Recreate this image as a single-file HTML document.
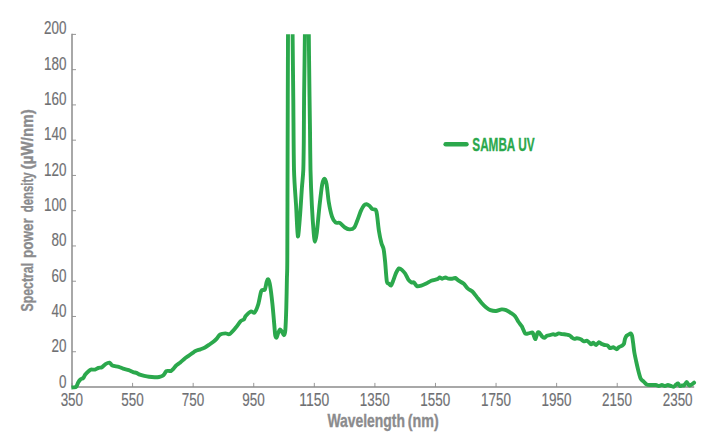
<!DOCTYPE html>
<html lang="en"><head><meta charset="utf-8"><title>SAMBA UV spectral power density</title>
<style>
html,body{margin:0;padding:0;background:#fff;}
body{width:720px;height:446px;overflow:hidden;}
svg{display:block;}
text{font-family:"Liberation Sans",sans-serif;}
.tl{font-size:17.8px;fill:#6f7073;stroke:#6f7073;stroke-width:0.18px;}
.tt{font-size:17.4px;font-weight:bold;fill:#8b8b8d;stroke:#8b8b8d;stroke-width:0.35px;word-spacing:-0.17em;}
.lg{font-size:17.6px;font-weight:bold;fill:#2ba84c;stroke:#2ba84c;stroke-width:0.3px;}
</style></head><body>
<svg width="720" height="446" viewBox="0 0 720 446">
<rect width="720" height="446" fill="#fff"/>
<defs><clipPath id="plot"><rect x="71.4" y="34.2" width="640" height="360"/></clipPath></defs>

<g stroke="#8c8c8c" fill="none">
<path stroke-width="1.5" d="M72.00 33.80 V387.00 H694.2"/>
<path stroke-width="0.9" d="M72.00 387.00 h4.0"/>
<path stroke-width="0.9" d="M72.00 351.74 h4.0"/>
<path stroke-width="0.9" d="M72.00 316.48 h4.0"/>
<path stroke-width="0.9" d="M72.00 281.22 h4.0"/>
<path stroke-width="0.9" d="M72.00 245.96 h4.0"/>
<path stroke-width="0.9" d="M72.00 210.70 h4.0"/>
<path stroke-width="0.9" d="M72.00 175.44 h4.0"/>
<path stroke-width="0.9" d="M72.00 140.18 h4.0"/>
<path stroke-width="0.9" d="M72.00 104.92 h4.0"/>
<path stroke-width="0.9" d="M72.00 69.66 h4.0"/>
<path stroke-width="0.9" d="M72.00 34.40 h4.0"/>
<path stroke-width="0.9" d="M72.00 387.00 v-4.1"/>
<path stroke-width="0.9" d="M132.58 387.00 v-4.1"/>
<path stroke-width="0.9" d="M193.16 387.00 v-4.1"/>
<path stroke-width="0.9" d="M253.74 387.00 v-4.1"/>
<path stroke-width="0.9" d="M314.32 387.00 v-4.1"/>
<path stroke-width="0.9" d="M374.90 387.00 v-4.1"/>
<path stroke-width="0.9" d="M435.48 387.00 v-4.1"/>
<path stroke-width="0.9" d="M496.06 387.00 v-4.1"/>
<path stroke-width="0.9" d="M556.64 387.00 v-4.1"/>
<path stroke-width="0.9" d="M617.22 387.00 v-4.1"/>
<path stroke-width="0.9" d="M677.80 387.00 v-4.1"/>
</g>
<text class="tl" x="58.97" y="387.75" textLength="7.48" lengthAdjust="spacingAndGlyphs">0</text>
<text class="tl" x="51.49" y="352.39" textLength="14.96" lengthAdjust="spacingAndGlyphs">20</text>
<text class="tl" x="51.49" y="317.04" textLength="14.96" lengthAdjust="spacingAndGlyphs">40</text>
<text class="tl" x="51.49" y="281.69" textLength="14.96" lengthAdjust="spacingAndGlyphs">60</text>
<text class="tl" x="51.49" y="246.33" textLength="14.96" lengthAdjust="spacingAndGlyphs">80</text>
<text class="tl" x="44.01" y="210.98" textLength="22.44" lengthAdjust="spacingAndGlyphs">100</text>
<text class="tl" x="44.01" y="175.62" textLength="22.44" lengthAdjust="spacingAndGlyphs">120</text>
<text class="tl" x="44.01" y="140.27" textLength="22.44" lengthAdjust="spacingAndGlyphs">140</text>
<text class="tl" x="44.01" y="104.91" textLength="22.44" lengthAdjust="spacingAndGlyphs">160</text>
<text class="tl" x="44.01" y="69.56" textLength="22.44" lengthAdjust="spacingAndGlyphs">180</text>
<text class="tl" x="44.01" y="34.20" textLength="22.44" lengthAdjust="spacingAndGlyphs">200</text>
<text class="tl" x="60.63" y="405.95" textLength="22.44" lengthAdjust="spacingAndGlyphs">350</text>
<text class="tl" x="121.21" y="405.95" textLength="22.44" lengthAdjust="spacingAndGlyphs">550</text>
<text class="tl" x="181.79" y="405.95" textLength="22.44" lengthAdjust="spacingAndGlyphs">750</text>
<text class="tl" x="242.37" y="405.95" textLength="22.44" lengthAdjust="spacingAndGlyphs">950</text>
<text class="tl" x="299.21" y="405.95" textLength="29.92" lengthAdjust="spacingAndGlyphs">1150</text>
<text class="tl" x="359.79" y="405.95" textLength="29.92" lengthAdjust="spacingAndGlyphs">1350</text>
<text class="tl" x="420.37" y="405.95" textLength="29.92" lengthAdjust="spacingAndGlyphs">1550</text>
<text class="tl" x="480.95" y="405.95" textLength="29.92" lengthAdjust="spacingAndGlyphs">1750</text>
<text class="tl" x="541.53" y="405.95" textLength="29.92" lengthAdjust="spacingAndGlyphs">1950</text>
<text class="tl" x="602.11" y="405.95" textLength="29.92" lengthAdjust="spacingAndGlyphs">2150</text>
<text class="tl" x="662.69" y="405.95" textLength="29.92" lengthAdjust="spacingAndGlyphs">2350</text>
<text class="tt" style="font-size:17.9px" y="426.6"><tspan x="327.4" textLength="77.6" lengthAdjust="spacingAndGlyphs">Wavelength</tspan> <tspan x="407.7" textLength="31.0" lengthAdjust="spacingAndGlyphs">(nm)</tspan></text>
<text class="tt" transform="translate(32.6 311.5) rotate(-90)" y="0"><tspan x="0" textLength="48.6" lengthAdjust="spacingAndGlyphs">Spectral</tspan> <tspan x="53.4" textLength="39.8" lengthAdjust="spacingAndGlyphs">power</tspan> <tspan x="99.2" textLength="39.8" lengthAdjust="spacingAndGlyphs">density</tspan> <tspan x="142.2" textLength="60.2" lengthAdjust="spacingAndGlyphs">(µW/nm)</tspan></text>
<path clip-path="url(#plot)" d="M71.00 387.50C71.33 387.49 72.79 387.52 73.50 387.40C74.21 387.28 75.66 387.29 76.30 386.60C76.94 385.91 77.75 383.16 78.30 382.20C78.85 381.24 79.75 379.96 80.40 379.40C81.05 378.84 82.55 378.65 83.20 378.00C83.85 377.35 84.55 375.43 85.30 374.50C86.05 373.57 88.05 371.65 88.80 371.00C89.55 370.35 90.07 369.79 90.90 369.60C91.73 369.41 93.99 369.84 95.00 369.60C96.01 369.36 97.57 368.11 98.50 367.80C99.43 367.49 101.07 367.79 102.00 367.30C102.93 366.81 104.49 364.71 105.50 364.10C106.51 363.49 108.69 362.51 109.60 362.70C110.51 362.89 111.09 364.95 112.30 365.50C113.51 366.05 117.26 366.39 118.70 366.80C120.14 367.21 121.77 368.16 123.10 368.60C124.43 369.04 127.37 369.63 128.70 370.10C130.03 370.57 132.07 371.73 133.10 372.10C134.13 372.47 135.51 372.57 136.40 372.90C137.29 373.23 138.75 374.21 139.80 374.60C140.85 374.99 143.07 375.52 144.30 375.80C145.53 376.08 147.63 376.51 149.00 376.70C150.37 376.89 153.27 377.16 154.60 377.20C155.93 377.24 157.96 377.17 159.00 377.00C160.04 376.83 161.65 376.34 162.40 375.90C163.15 375.46 164.08 374.34 164.60 373.70C165.12 373.06 165.77 371.47 166.30 371.10C166.83 370.73 168.00 370.90 168.60 370.90C169.20 370.90 170.20 371.33 170.80 371.10C171.40 370.87 172.42 369.91 173.10 369.20C173.78 368.49 174.94 366.69 175.90 365.80C176.86 364.91 179.11 363.47 180.30 362.50C181.49 361.53 183.75 359.35 184.80 358.50C185.85 357.65 187.15 356.85 188.20 356.10C189.25 355.35 191.73 353.59 192.70 352.90C193.67 352.21 194.46 351.38 195.50 350.90C196.54 350.42 199.23 349.75 200.50 349.30C201.77 348.85 203.80 348.14 205.00 347.50C206.20 346.86 208.30 345.34 209.50 344.50C210.70 343.66 213.00 342.03 214.00 341.20C215.00 340.37 216.17 339.19 217.00 338.30C217.83 337.41 219.07 335.15 220.20 334.50C221.33 333.85 224.23 333.47 225.50 333.40C226.77 333.33 228.35 334.75 229.70 334.00C231.05 333.25 234.13 329.52 235.60 327.80C237.07 326.08 239.58 322.22 240.70 321.10C241.82 319.98 243.33 320.08 244.00 319.40C244.67 318.72 244.79 317.05 245.70 316.00C246.61 314.95 249.61 311.97 250.80 311.50C251.99 311.03 253.61 313.43 254.60 312.50C255.59 311.57 257.31 307.37 258.20 304.50C259.09 301.63 260.42 292.97 261.30 291.00C262.18 289.03 264.08 290.91 264.80 289.70C265.52 288.49 266.25 283.27 266.70 281.90C267.15 280.53 267.75 278.89 268.20 279.40C268.65 279.91 269.54 282.45 270.10 285.70C270.66 288.95 271.84 298.56 272.40 303.80C272.96 309.04 273.93 320.81 274.30 325.00C274.67 329.19 274.89 333.51 275.20 335.20C275.51 336.89 276.21 337.95 276.60 337.70C276.99 337.45 277.65 334.39 278.10 333.30C278.55 332.21 279.49 329.75 280.00 329.50C280.51 329.25 281.39 330.64 281.90 331.40C282.41 332.16 283.35 335.32 283.80 335.20C284.25 335.08 284.97 334.18 285.30 330.50C285.63 326.82 286.09 314.47 286.30 307.60C286.51 300.73 286.77 285.35 286.90 279.00C287.03 272.65 287.21 275.87 287.30 260.00C287.39 244.13 287.51 190.13 287.60 160.00C287.69 129.87 287.87 60.67 288.00 34.00C288.13 7.33 288.29 -27.47 288.60 -40.00C288.91 -52.53 289.85 -60.00 290.30 -60.00C290.75 -60.00 291.69 -52.53 292.00 -40.00C292.31 -27.47 292.43 15.33 292.60 34.00C292.77 52.67 293.11 81.87 293.30 100.00C293.49 118.13 293.63 155.88 294.00 170.00C294.37 184.12 295.58 197.05 296.10 205.90C296.62 214.75 297.37 235.21 297.90 236.40C298.43 237.59 299.57 221.27 300.10 214.80C300.63 208.33 301.47 193.87 301.90 187.90C302.33 181.93 303.05 176.39 303.30 170.00C303.55 163.61 303.69 150.00 303.80 140.00C303.91 130.00 303.95 109.13 304.10 95.00C304.25 80.87 304.73 52.00 304.90 34.00C305.07 16.00 305.15 -27.47 305.40 -40.00C305.65 -52.53 306.41 -60.00 306.80 -60.00C307.19 -60.00 308.03 -52.53 308.30 -40.00C308.57 -27.47 308.64 16.00 308.80 34.00C308.96 52.00 309.34 82.20 309.50 95.00C309.66 107.80 309.87 120.00 310.00 130.00C310.13 140.00 310.25 159.88 310.50 170.00C310.75 180.12 311.47 197.53 311.90 205.90C312.33 214.27 313.29 228.03 313.70 232.80C314.11 237.57 314.59 241.70 315.00 241.70C315.41 241.70 316.20 237.57 316.80 232.80C317.40 228.03 318.78 212.37 319.50 205.90C320.22 199.43 321.53 187.94 322.20 184.30C322.87 180.66 323.91 178.60 324.50 178.60C325.09 178.60 326.03 181.14 326.60 184.30C327.17 187.46 328.08 197.99 328.80 202.30C329.52 206.61 331.09 213.89 332.00 216.60C332.91 219.31 334.55 221.76 335.60 222.60C336.65 223.44 338.66 222.25 339.90 222.90C341.14 223.55 343.57 226.63 344.90 227.50C346.23 228.37 348.65 229.40 349.90 229.40C351.15 229.40 353.33 228.65 354.30 227.50C355.27 226.35 356.32 223.01 357.20 220.80C358.08 218.59 359.98 212.97 360.90 210.90C361.82 208.83 363.34 206.18 364.10 205.30C364.86 204.42 365.87 204.21 366.60 204.30C367.33 204.39 368.81 205.35 369.60 206.00C370.39 206.65 371.69 208.71 372.50 209.20C373.31 209.69 375.10 208.98 375.70 209.70C376.30 210.42 376.57 211.80 377.00 214.60C377.43 217.40 378.31 226.91 378.90 230.70C379.49 234.49 380.77 240.55 381.40 243.00C382.03 245.45 383.11 246.63 383.60 249.10C384.09 251.57 384.67 257.22 385.10 261.50C385.53 265.78 386.31 278.25 386.80 281.20C387.29 284.15 388.24 283.01 388.80 283.60C389.36 284.19 390.44 285.92 391.00 285.60C391.56 285.28 392.31 282.93 393.00 281.20C393.69 279.47 395.39 274.31 396.20 272.60C397.01 270.89 398.31 268.73 399.10 268.40C399.89 268.07 401.27 269.38 402.10 270.10C402.93 270.82 404.45 272.49 405.30 273.80C406.15 275.11 407.67 278.75 408.50 279.90C409.33 281.05 410.78 282.07 411.50 282.40C412.22 282.73 413.18 281.91 413.90 282.40C414.62 282.89 415.91 285.67 416.90 286.10C417.89 286.53 420.06 285.93 421.30 285.60C422.54 285.27 424.88 284.25 426.20 283.60C427.52 282.95 429.72 281.29 431.20 280.70C432.68 280.11 436.15 279.63 437.30 279.20C438.45 278.77 439.13 277.57 439.80 277.50C440.47 277.43 441.54 278.70 442.30 278.70C443.06 278.70 444.69 277.50 445.50 277.50C446.31 277.50 447.52 278.54 448.40 278.70C449.28 278.86 451.18 278.79 452.10 278.70C453.02 278.61 454.47 277.77 455.30 278.00C456.13 278.23 457.21 279.65 458.30 280.40C459.39 281.15 462.22 282.51 463.50 283.60C464.78 284.69 466.71 287.55 467.90 288.60C469.09 289.65 471.20 290.37 472.40 291.50C473.60 292.63 475.70 295.61 476.90 297.10C478.10 298.59 480.20 301.35 481.40 302.70C482.60 304.05 484.70 306.21 485.90 307.20C487.10 308.19 489.05 309.59 490.40 310.10C491.75 310.61 494.51 311.09 496.00 311.00C497.49 310.91 500.25 309.52 501.60 309.40C502.95 309.28 504.90 309.65 506.10 310.10C507.30 310.55 509.40 311.99 510.60 312.80C511.80 313.61 514.06 315.00 515.10 316.20C516.14 317.40 517.51 320.45 518.40 321.80C519.29 323.15 520.91 324.75 521.80 326.30C522.69 327.85 524.21 332.45 525.10 333.40C525.99 334.35 527.51 333.52 528.50 333.40C529.49 333.28 531.75 332.10 532.50 332.50C533.25 332.90 533.70 335.53 534.10 336.40C534.50 337.27 535.05 339.45 535.50 339.00C535.95 338.55 536.99 333.87 537.50 333.00C538.01 332.13 538.70 332.05 539.30 332.50C539.90 332.95 541.35 335.68 542.00 336.40C542.65 337.12 543.55 337.99 544.20 337.90C544.85 337.81 546.15 336.06 546.90 335.70C547.65 335.34 548.96 335.41 549.80 335.20C550.64 334.99 552.45 334.15 553.20 334.10C553.95 334.05 554.65 334.89 555.40 334.80C556.15 334.71 557.89 333.49 558.80 333.40C559.71 333.31 561.16 333.94 562.20 334.10C563.24 334.26 565.56 334.40 566.60 334.60C567.64 334.80 569.25 335.17 570.00 335.60C570.75 336.03 571.61 337.36 572.20 337.80C572.79 338.24 573.80 338.83 574.40 338.90C575.00 338.97 576.10 338.34 576.70 338.30C577.30 338.26 578.31 338.45 578.90 338.60C579.49 338.75 580.43 339.03 581.10 339.40C581.77 339.77 583.15 341.24 583.90 341.40C584.65 341.56 586.03 340.49 586.70 340.60C587.37 340.71 588.31 341.69 588.90 342.20C589.49 342.71 590.51 344.32 591.10 344.40C591.69 344.48 592.63 342.72 593.30 342.80C593.97 342.88 595.35 345.08 596.10 345.00C596.85 344.92 598.15 342.32 598.90 342.20C599.65 342.08 600.97 343.73 601.70 344.10C602.43 344.47 603.59 344.80 604.40 345.00C605.21 345.20 607.05 345.19 607.80 345.60C608.55 346.01 609.27 347.89 610.00 348.10C610.73 348.31 612.41 347.05 613.30 347.20C614.19 347.35 615.95 349.20 616.70 349.20C617.45 349.20 618.23 347.64 618.90 347.20C619.57 346.76 621.03 346.34 621.70 345.90C622.37 345.46 623.46 344.83 623.90 343.90C624.34 342.97 624.63 340.01 625.00 338.90C625.37 337.79 626.18 336.20 626.70 335.60C627.22 335.00 628.38 334.69 628.90 334.40C629.42 334.11 630.19 333.24 630.60 333.40C631.01 333.56 631.67 334.35 632.00 335.60C632.33 336.85 632.78 340.51 633.10 342.80C633.42 345.09 634.00 350.37 634.40 352.80C634.80 355.23 635.58 358.64 636.10 361.00C636.62 363.36 637.69 368.15 638.30 370.50C638.91 372.85 639.98 377.12 640.70 378.60C641.42 380.08 642.90 380.80 643.70 381.60C644.50 382.40 645.75 384.15 646.70 384.60C647.65 385.05 649.59 384.95 650.80 385.00C652.01 385.05 654.73 384.87 655.80 385.00C656.87 385.13 657.99 386.00 658.80 386.00C659.61 386.00 661.09 385.00 661.90 385.00C662.71 385.00 664.10 386.00 664.90 386.00C665.70 386.00 667.09 385.00 667.90 385.00C668.71 385.00 670.19 385.77 671.00 386.00C671.81 386.23 673.33 386.89 674.00 386.70C674.67 386.51 675.47 385.04 676.00 384.60C676.53 384.16 677.47 383.21 678.00 383.40C678.53 383.59 679.47 385.73 680.00 386.00C680.53 386.27 681.45 385.48 682.00 385.40C682.55 385.32 683.47 385.85 684.10 385.40C684.73 384.95 686.03 382.00 686.70 382.00C687.37 382.00 688.46 385.05 689.10 385.40C689.74 385.75 690.83 384.97 691.50 384.60C692.17 384.23 693.75 382.87 694.10 382.60" fill="none" stroke="#2ba84c" stroke-width="3.9" stroke-linejoin="round" stroke-linecap="round"/>
<path d="M445.7 144.2H466.4" stroke="#2ba84c" stroke-width="4.6" stroke-linecap="round" fill="none"/>
<text class="lg" y="150.5"><tspan x="472.3" textLength="42.6" lengthAdjust="spacingAndGlyphs">SAMBA</tspan> <tspan x="518.3" textLength="16.4" lengthAdjust="spacingAndGlyphs">UV</tspan></text>
</svg></body></html>
